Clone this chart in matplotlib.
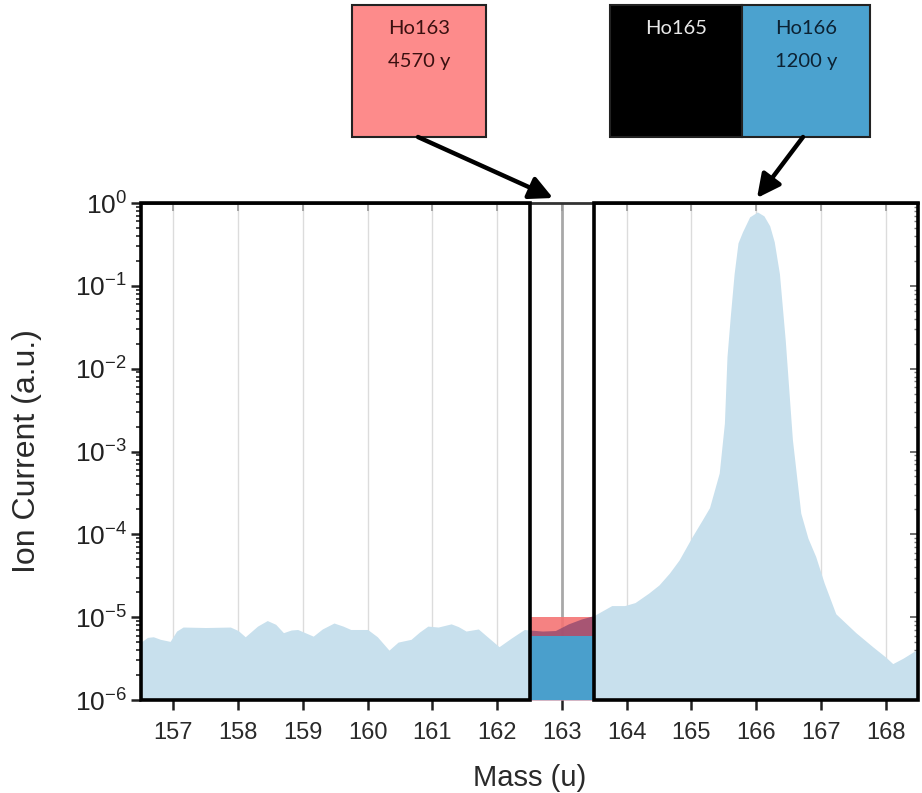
import numpy as np
import matplotlib.pyplot as plt
import matplotlib as mpl
from matplotlib.patches import Rectangle, FancyArrowPatch
from matplotlib.ticker import LogLocator, NullFormatter, FixedLocator

mpl.rcParams['font.family'] = ['Liberation Sans', 'DejaVu Sans']
mpl.rcParams['mathtext.fontset'] = 'custom'
mpl.rcParams['mathtext.rm'] = 'Liberation Sans'
mpl.rcParams['mathtext.it'] = 'Liberation Sans:italic'
mpl.rcParams['mathtext.bf'] = 'Liberation Sans:bold'
mpl.rcParams['axes.unicode_minus'] = False

# background spectrum, left of the Ho163 window
mass_left = [156.5, 156.6, 156.69, 156.8, 156.95, 157.05, 157.15, 157.5, 157.88, 158.0,
             158.11, 158.3, 158.45, 158.58, 158.70, 158.82, 158.92, 159.16, 159.3,
             159.48, 159.62, 159.74, 160.00, 160.15, 160.33, 160.47, 160.67, 160.8,
             160.93, 161.09, 161.29, 161.4, 161.52, 161.71, 161.85, 162.03, 162.22,
             162.42, 162.5]
ion_left = [5.0e-6, 5.7e-6, 5.8e-6, 5.4e-6, 5.1e-6, 6.8e-6, 7.6e-6, 7.5e-6, 7.6e-6, 6.9e-6,
            5.8e-6, 7.8e-6, 9.1e-6, 8.2e-6, 6.5e-6, 7.0e-6, 7.1e-6, 5.9e-6, 7.2e-6,
            8.5e-6, 7.8e-6, 7.1e-6, 7.1e-6, 5.8e-6, 4.0e-6, 5.0e-6, 5.4e-6, 6.6e-6,
            7.8e-6, 7.6e-6, 8.3e-6, 7.7e-6, 6.8e-6, 7.2e-6, 5.8e-6, 4.4e-6, 5.6e-6,
            7.1e-6, 7.0e-6]

# spectrum inside the mass-163 window
mass_mid = [162.5, 162.7, 162.9, 163.1, 163.3, 163.5]
ion_mid = [7.0e-6, 6.8e-6, 6.9e-6, 8.3e-6, 9.5e-6, 1.05e-5]

# Ho166 peak region
mass_right = [163.5, 163.77, 163.97, 164.13, 164.34, 164.5, 164.66, 164.81, 165.01, 165.17,
              165.28, 165.43, 165.51, 165.55, 165.60, 165.66, 165.72, 165.79, 165.90,
              166.02, 166.12, 166.21, 166.28, 166.36, 166.45, 166.56, 166.69, 166.8,
              166.92, 167.05, 167.23, 167.54, 167.80, 168.00, 168.11, 168.27, 168.47, 168.5]
ion_right = [1.05e-5, 1.38e-5, 1.38e-5, 1.5e-5, 1.95e-5, 2.45e-5, 3.4e-5, 4.9e-5, 9.3e-5, 1.5e-4,
             2.1e-4, 5.5e-4, 2.2e-3, 1.4e-2, 4.2e-2, 0.14, 0.33, 0.45, 0.68,
             0.78, 0.70, 0.53, 0.34, 0.14, 0.022, 1.4e-3, 1.8e-4, 9.0e-5,
             5.4e-5, 2.6e-5, 1.1e-5, 6.5e-6, 4.4e-6, 3.3e-6, 2.75e-6, 3.2e-6, 4.0e-6, 4.1e-6]

# Ho163 window levels
window = (162.5, 163.5)
ho163_level = (6.0e-6, 1.0e-5)
ho166_level = 6.0e-6

mass_ticks = list(range(157, 169))

W, H = 922, 793
fig = plt.figure(figsize=(W / 100, H / 100), dpi=100)
ax = fig.add_axes([141 / W, 1 - 700 / H, (918 - 141) / W, (700 - 203) / H])

light = '#c8e0ed'
dark_blue = '#4a9fcc'
pink = '#f47474'

ax.set_yscale('log')
ax.set_xlim(156.5, 168.5)
ax.set_ylim(1e-6, 1)

for m in mass_ticks:
    ax.axvline(m, color='#a8a8a8' if m == 163 else '#dcdcdc',
               lw=2.0 if m == 163 else 1.0, zorder=0)

ax.fill_between(mass_left, 1e-6, ion_left, color=light, lw=0, zorder=1)
ax.fill_between(mass_right, 1e-6, ion_right, color=light, lw=0, zorder=1)
ax.fill_between(window, ho163_level[0], ho163_level[1], color=pink, alpha=0.9, lw=0, zorder=1)
ax.fill_between(mass_mid, 1e-6, ion_mid, color='#944a70', alpha=0.8, lw=0, zorder=2)
ax.fill_between(window, 1e-6, ho166_level, color=dark_blue, lw=0, zorder=3)

# outlined boxes left and right of the window
ax.add_patch(Rectangle((156.5, 1e-6), 162.5 - 156.5, 1 - 1e-6, fill=False,
                       ec='black', lw=2.6, zorder=5, clip_on=False))
ax.add_patch(Rectangle((163.5, 1e-6), 168.5 - 163.5, 1 - 1e-6, fill=False,
                       ec='black', lw=2.6, zorder=5, clip_on=False))

for s in ['left', 'right', 'bottom']:
    ax.spines[s].set_visible(False)
ax.spines['top'].set_color('#333333')
ax.spines['top'].set_linewidth(2)

ax.xaxis.set_major_locator(FixedLocator(mass_ticks))
ax.tick_params(axis='x', which='major', direction='out', length=7, width=1.8,
               pad=9, labelsize=17, color='#222222', labelcolor='#2a2a2a')
ax.yaxis.set_major_locator(LogLocator(base=10, numticks=10))
ax.yaxis.set_minor_locator(LogLocator(base=10, subs=np.arange(1, 10) * 1.0, numticks=20))
ax.yaxis.set_minor_formatter(NullFormatter())
ax.tick_params(axis='y', which='major', direction='out', length=7, width=1.8,
               labelsize=19, pad=3, color='#222222', labelcolor='#222222')
ax.tick_params(axis='y', which='minor', direction='out', length=3.5, width=1.2, color='#222222')

# inward gray ticks on the top and right edges
top = ax.secondary_xaxis('top')
top.xaxis.set_major_locator(FixedLocator(mass_ticks))
top.tick_params(direction='in', length=6, width=1.2, labeltop=False, color='#999999')
top.spines['top'].set_visible(False)

sec = ax.secondary_yaxis('right')
sec.tick_params(which='major', direction='in', length=6, width=1.2, labelright=False, color='#555555')
sec.tick_params(which='minor', direction='in', length=3, width=1.0, color='#777777')
sec.yaxis.set_minor_locator(LogLocator(base=10, subs=np.arange(1, 10) * 1.0, numticks=20))
sec.yaxis.set_minor_formatter(NullFormatter())
sec.spines['right'].set_visible(False)

ax.set_xlabel('Mass (u)', fontsize=21, color='#2a2a2a', labelpad=14)
ax.set_ylabel('Ion Current (a.u.)', fontsize=23, color='#2a2a2a', labelpad=24)

# isotope boxes above the plot
def px(x, y):
    return x / W, 1 - y / H

def box(x0, x1, color, lines, tcolor):
    fig.add_artist(Rectangle(px(x0, 137), (x1 - x0) / W, 132 / H, transform=fig.transFigure,
                             fc=color, ec='#222222', lw=1.5))
    for i, t in enumerate(lines):
        fig.text(*px((x0 + x1) / 2, 29 + 33 * i), t, ha='center', va='center',
                 fontsize=14.5, color=tcolor, family=['Lato', 'DejaVu Sans'])

box(352, 486, '#fd8b8b', ['Ho163', '4570 y'], '#3a1010')
box(610, 742, 'black', ['Ho165'], '#e8e8e8')
box(742, 870, '#4ba2cf', ['Ho166', '1200 y'], '#0c2233')

arrow = dict(arrowstyle='-|>,head_length=1.0,head_width=0.5', color='black', lw=3.2,
             shrinkA=0, shrinkB=0)
fig.add_artist(FancyArrowPatch(px(418, 137), px(553, 198), transform=fig.transFigure,
                               mutation_scale=14, **arrow))
fig.add_artist(FancyArrowPatch(px(803, 137), px(757, 198), transform=fig.transFigure,
                               mutation_scale=14, **arrow))

fig.savefig('out.png', dpi=100)
